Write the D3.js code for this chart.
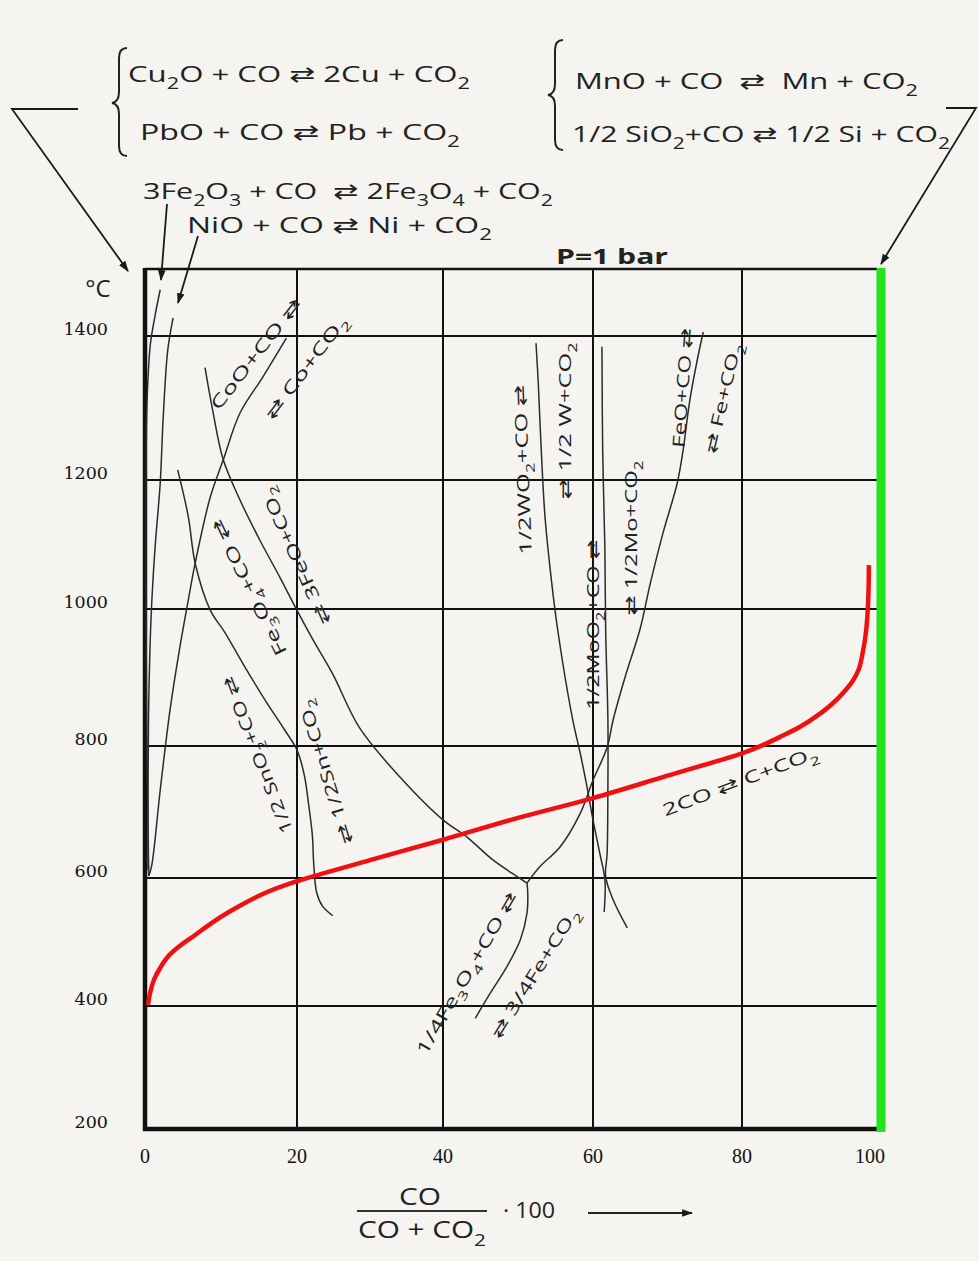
<!DOCTYPE html>
<html><head><meta charset="utf-8">
<script src="https://cdn.jsdelivr.net/npm/d3@7"></script>
<style>body{margin:0;background:#f5f4f0} text{white-space:pre}</style>
</head><body>
<svg id="c" width="979" height="1261"></svg>
<script>
// ---------- data ----------
const xTicks = [0, 20, 40, 60, 80, 100];
const yTicks = [200, 400, 600, 800, 1000, 1200, 1400];
// [CO %, °C]
const boudouard = [[0.4,402],[0.66,420],[1.18,441],[1.97,459],[3.0,477],[4.6,494],[6.6,511],[8.8,530],[11.2,548],[15.5,575],[20,595],[30,627],[40,658],[50,691],[60,721],[70,755],[80,789],[83.0,801],[85.6,813],[88.6,828],[91.1,844],[93.3,861],[95.1,879],[96.4,895],[97.3,912],[97.9,937],[98.4,969],[98.7,1014],[98.8,1068]];
const fe2o3 = [[2.0,1469],[1.3,1429],[0.7,1388],[0.26,1306],[0.13,1200],[0.13,1000],[0.26,800],[0.5,603]];
const nio = [[3.7,1427],[3.0,1381],[2.4,1288],[2.0,1195],[1.3,1091],[0.8,988],[0.5,867],[0.4,718],[0.4,612]];
const coo = [[0.5,603],[0.9,620],[2.0,733],[3.3,853],[4.6,945],[5.7,1014],[6.6,1071],[8.6,1174],[10.3,1228],[12.5,1293],[15.5,1343],[18.6,1397]];
const fe3o4Feo = [[7.9,1356],[8.9,1297],[10.3,1228],[12.5,1169],[15.1,1107],[17.8,1048],[20,998],[22.2,955],[24.9,905],[28.6,826],[34.1,753],[40,688],[43.2,662],[46.7,627],[49.9,602],[51.2,592]];
const sno2 = [[4.3,1214],[5.7,1143],[6.6,1071],[8.6,998],[10.5,966],[12.9,920],[15.8,867],[18.4,823],[20,794],[21.0,756],[21.6,711],[22.1,665],[22.3,620],[22.7,577],[23.5,556],[24.9,541]];
const fe3o4Fe = [[51.2,592],[51.3,577],[51.2,545],[50.3,503],[48.5,461],[46.3,420],[44.3,380]];
const feoFe = [[51.2,592],[52.9,617],[55.6,647],[58.3,698],[60,748],[61.9,798],[62.7,838],[64.4,904],[66.3,970],[67.7,1040],[69.4,1118],[71.3,1195],[72.1,1242],[73.0,1311],[74.0,1367],[74.8,1406]];
const wo2 = [[52.4,1390],[52.7,1335],[53.1,1242],[53.6,1143],[54.5,1040],[55.3,969],[57.3,838],[58.3,789],[59.2,738],[60,688],[60.9,638],[61.6,597],[61.5,547]];
const moo2 = [[61.2,1385],[61.3,1242],[61.6,1091],[61.7,969],[62.0,838],[62.0,738],[61.9,638],[61.7,602],[62.7,566],[64.6,522]];
const eqCurves = [fe2o3, nio, coo, fe3o4Feo, sno2, fe3o4Fe, feoFe, wo2, moo2];

const curveLabels = [
  {t:"CoO+CO ⇄",        x:14.5, T:1376, a:-52,  len:136},
  {t:"⇄ Co+CO_2",        x:21.1, T:1357, a:-53,  len:125},
  {t:"Fe_3O_4+CO ⇄",     x:13.6, T:1033, a:-116, len:150},
  {t:"⇄ 3FeO+CO_2",      x:19.7, T:1081, a:-114, len:148},
  {t:"1/2 SnO_2+CO ⇄",   x:14.7, T:786,  a:-111, len:167},
  {t:"⇄ 1/2Sn+CO_2",     x:23.8, T:760,  a:-107, len:150},
  {t:"1/4Fe_3O_4+CO ⇄",  x:43.1, T:452,  a:-60,  len:185},
  {t:"⇄ 3/4Fe+CO_2",     x:52.1, T:452,  a:-58,  len:150},
  {t:"1/2WO_2+CO ⇄",     x:50.5, T:1214, a:-92,  len:170},
  {t:"⇄ 1/2 W+CO_2",     x:56.1, T:1282, a:-90,  len:157},
  {t:"1/2MoO_2+CO ⇄",    x:59.9, T:977,  a:-90,  len:170},
  {t:"⇄ 1/2Mo+CO_2",     x:65.0, T:1110, a:-90,  len:155},
  {t:"FeO+CO ⇄",         x:71.9, T:1328, a:-86,  len:120},
  {t:"⇄ Fe+CO_2",        x:77.3, T:1314, a:-77,  len:113},
  {t:"2CO ⇄ C+CO_2",     x:79.7, T:748,  a:-21,  len:165}
];
const topEquations = [
  {t:"Cu_2O + CO ⇄ 2Cu + CO_2",        x0:128, x1:470, y:73},
  {t:"PbO + CO ⇄ Pb + CO_2",           x0:140, x1:460, y:131},
  {t:"3Fe_2O_3 + CO  ⇄ 2Fe_3O_4 + CO_2", x0:143, x1:553, y:190},
  {t:"NiO + CO ⇄ Ni + CO_2",           x0:187, x1:492, y:224},
  {t:"MnO + CO  ⇄  Mn + CO_2",         x0:575, x1:918, y:80},
  {t:"1/2 SiO_2+CO ⇄ 1/2 Si + CO_2",   x0:572, x1:950, y:133}
];

// ---------- scales ----------
const x = d3.scaleLinear().domain([0,20,40,60,80,100]).range([145,297,443,593,742,877]);
const y = d3.scaleLinear().domain([200,400,600,800,1000,1200,1400,1500]).range([1129,1006,878,746,609,480,336,269]);

const svg = d3.select('#c');
svg.append('rect').attr('width',979).attr('height',1261).attr('fill','#f5f4f0');
const defs = svg.append('defs');
defs.append('marker').attr('id','ah').attr('viewBox','0 0 10 10').attr('refX',9).attr('refY',5)
  .attr('markerWidth',11).attr('markerHeight',11).attr('markerUnits','userSpaceOnUse').attr('orient','auto')
  .append('path').attr('d','M0,1.5L10,5L0,8.5z').attr('fill','#1a1a1a');

const SANS = "'Open Sans','DejaVu Sans',sans-serif";

function rich(sel, s){
  s.split(/(_\d)/).filter(p=>p.length).forEach(p=>{
    if(p[0]==='_') sel.append('tspan').attr('baseline-shift','sub').attr('font-size','70%').text(p.slice(1));
    else sel.append('tspan').text(p);
  });
}

// ---------- grid ----------
const grid = svg.append('g');
grid.selectAll(null).data(xTicks.slice(1,-1)).join('line')
  .attr('x1',d=>x(d)).attr('x2',d=>x(d)).attr('y1',y(1500)).attr('y2',y(200))
  .attr('stroke','#111').attr('stroke-width',2);
grid.selectAll(null).data(yTicks.slice(1)).join('line')
  .attr('x1',x(0)).attr('x2',x(100)).attr('y1',d=>y(d)).attr('y2',d=>y(d))
  .attr('stroke','#111').attr('stroke-width',2);
grid.append('line').attr('x1',x(0)).attr('x2',x(100)).attr('y1',y(1500)).attr('y2',y(1500)).attr('stroke','#111').attr('stroke-width',2.5);
grid.append('line').attr('x1',x(0)).attr('x2',x(0)).attr('y1',y(1500)-1).attr('y2',y(200)+2).attr('stroke','#111').attr('stroke-width',4.5);
grid.append('line').attr('x1',x(0)-2).attr('x2',x(100)).attr('y1',y(200)).attr('y2',y(200)).attr('stroke','#111').attr('stroke-width',4.5);

// ---------- ticks ----------
svg.append('g').selectAll(null).data(yTicks).join('text')
  .attr('x',108).attr('y',d=>y(d)-7).attr('text-anchor','end').attr('dominant-baseline','central')
  .attr('font-family',"'DejaVu Serif',serif").attr('font-size',17.5).attr('fill','#111').text(d=>d);
svg.append('g').selectAll(null).data(xTicks).join('text')
  .attr('x',d=>x(d)-(d===100?7:0)).attr('y',1156).attr('text-anchor','middle').attr('dominant-baseline','central')
  .attr('font-family',"'Liberation Serif',serif").attr('font-size',20).attr('fill','#111').text(d=>d);

// ---------- curves ----------
const line = d3.line().x(d=>x(d[0])).y(d=>y(d[1])).curve(d3.curveCatmullRom.alpha(0.5));
svg.append('g').selectAll(null).data(eqCurves).join('path')
  .attr('d',line).attr('fill','none').attr('stroke','#2b2b2b').attr('stroke-width',1.5);
svg.append('path').datum(boudouard).attr('d',line).attr('fill','none').attr('stroke','#f01010').attr('stroke-width',4.5);
svg.append('line').attr('x1',x(100)+4).attr('x2',x(100)+4).attr('y1',y(1500)-1).attr('y2',y(200)+3)
  .attr('stroke','#1fe51f').attr('stroke-width',9);

// ---------- curve labels ----------
svg.append('g').selectAll(null).data(curveLabels).join('text')
  .attr('transform',d=>`translate(${x(d.x)},${y(d.T)}) rotate(${d.a})`)
  .attr('text-anchor','middle').attr('dominant-baseline','central')
  .attr('font-family',SANS).attr('font-size',17).attr('fill','#222')
  .attr('textLength',d=>d.len).attr('lengthAdjust','spacingAndGlyphs')
  .each(function(d){ rich(d3.select(this), d.t); });

// ---------- top equations ----------
svg.append('g').selectAll(null).data(topEquations).join('text')
  .attr('x',d=>d.x0).attr('y',d=>d.y).attr('dominant-baseline','central')
  .attr('font-family',SANS).attr('font-size',22).attr('fill','#222')
  .attr('textLength',d=>d.x1-d.x0).attr('lengthAdjust','spacingAndGlyphs')
  .each(function(d){ rich(d3.select(this), d.t); });

// braces
const br = svg.append('g').attr('fill','none').attr('stroke','#222').attr('stroke-width',2);
br.append('path').attr('d','M127,48 Q119,48 119,58 L119,92 Q119,102 112,103 Q119,104 119,114 L119,146 Q119,156 127,156');
br.append('path').attr('d','M563,40 Q555,40 555,50 L555,84 Q555,94 548,95 Q555,96 555,106 L555,140 Q555,150 563,150');

// leaders
const ld = svg.append('g').attr('fill','none').attr('stroke','#1a1a1a').attr('stroke-width',1.8);
ld.append('path').attr('d','M78,109 L12,109 L128,271').attr('marker-end','url(#ah)');
ld.append('path').attr('d','M946,108 L976,108 L881,264').attr('marker-end','url(#ah)');
ld.append('path').attr('d','M167,204 L161,280').attr('marker-end','url(#ah)');
ld.append('path').attr('d','M198,236 L178,303').attr('marker-end','url(#ah)');

// P = 1 bar, °C
svg.append('text').attr('x',556).attr('y',255).attr('dominant-baseline','central')
  .attr('font-family',SANS).attr('font-weight','bold').attr('font-size',22).attr('fill','#222')
  .attr('textLength',112).attr('lengthAdjust','spacingAndGlyphs').text('P=1 bar');
svg.append('text').attr('x',98).attr('y',287).attr('text-anchor','middle').attr('dominant-baseline','central')
  .attr('font-family',SANS).attr('font-size',24).attr('fill','#222').text('°C');

// x axis title
const xt = svg.append('g').attr('fill','#222').attr('font-family',SANS);
xt.append('text').attr('x',420).attr('y',1195).attr('text-anchor','middle').attr('dominant-baseline','central')
  .attr('font-size',24).attr('textLength',42).attr('lengthAdjust','spacingAndGlyphs').text('CO');
xt.append('line').attr('x1',357).attr('x2',487).attr('y1',1211).attr('y2',1211).attr('stroke','#333').attr('stroke-width',2);
const den = xt.append('text').attr('x',422).attr('y',1228).attr('text-anchor','middle').attr('dominant-baseline','central')
  .attr('font-size',24).attr('textLength',128).attr('lengthAdjust','spacingAndGlyphs');
rich(den,'CO + CO_2');
xt.append('text').attr('x',503).attr('y',1209).attr('dominant-baseline','central').attr('font-size',22)
  .attr('textLength',52).attr('lengthAdjust','spacingAndGlyphs').text('· 100');
xt.append('line').attr('x1',588).attr('x2',692).attr('y1',1213).attr('y2',1213).attr('stroke','#222').attr('stroke-width',2.2).attr('marker-end','url(#ah)');
</script>
</body></html>
